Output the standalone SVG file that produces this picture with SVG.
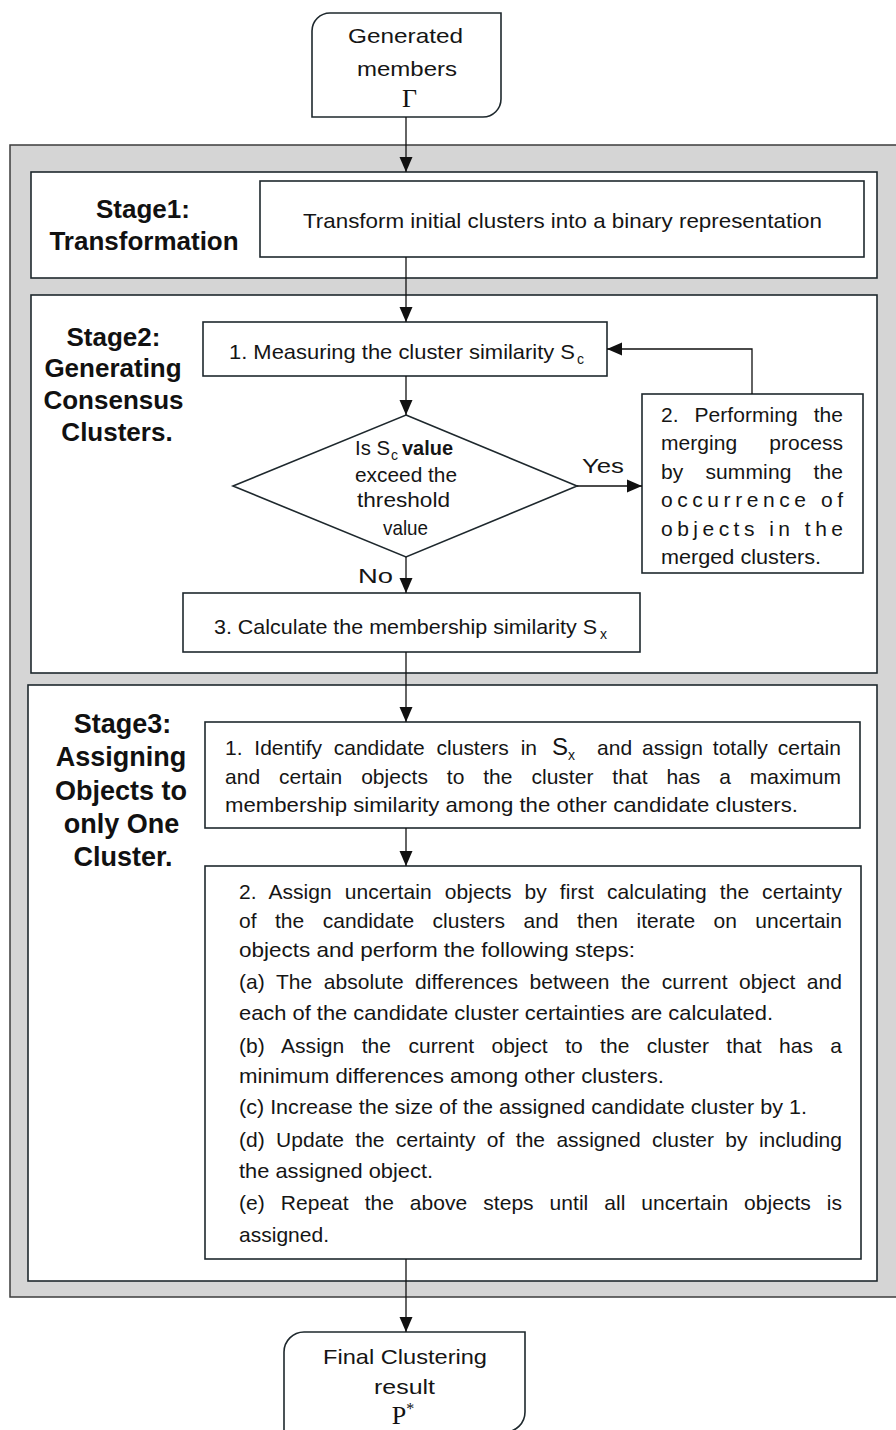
<svg xmlns="http://www.w3.org/2000/svg" width="896" height="1430" viewBox="0 0 896 1430">
<defs>
<style>
.box{fill:#fff;stroke:#1e282d;stroke-width:1.6}
.outer{fill:#d5d5d5;stroke:#3c3c3c;stroke-width:1.5}
.t{font-family:"Liberation Sans",Arial,sans-serif;font-size:21px;fill:#151515}
.sub{font-size:14px}
.lbl{font-family:"Liberation Sans",Arial,sans-serif;font-weight:bold;font-size:26px;fill:#111;text-anchor:middle}
.l3{font-size:27px}
.serif{font-family:"Liberation Serif","Times New Roman",serif;font-size:26px;fill:#111;text-anchor:middle}
.conn{stroke:#111;stroke-width:1.3;fill:none}
</style>
<marker id="ah" markerUnits="userSpaceOnUse" markerWidth="16" markerHeight="14" refX="15" refY="7" orient="auto">
<path d="M0,0.5 L15,7 L0,13.5 Z" fill="#111"/>
</marker>
</defs>

<g id="outer-container">
<rect class="outer" x="10" y="145" width="892" height="1152"/>
</g>

<g id="start">
<path class="box" d="M312,117 V31 A18,18 0 0 1 330,13 H501 V99 A18,18 0 0 1 483,117 Z"/>
<text class="t" x="348" y="43" font-size="23" textLength="115" lengthAdjust="spacingAndGlyphs">Generated</text>
<text class="t" x="357" y="76" font-size="23" textLength="100" lengthAdjust="spacingAndGlyphs">members</text>
<text class="serif" x="409.5" y="107">Γ</text>
</g>

<g id="stage1">
<rect class="box" x="31" y="172" width="846" height="106"/>
<text class="lbl" x="143" y="218">Stage1:</text>
<text class="lbl" x="144" y="250">Transformation</text>
</g>
<g id="transform">
<rect class="box" x="260" y="181" width="604" height="76"/>
<text class="t" x="303" y="228" textLength="519" lengthAdjust="spacingAndGlyphs">Transform initial clusters into a binary representation</text>
</g>

<g id="stage2">
<rect class="box" x="31" y="295" width="846" height="378"/>
<text class="lbl" x="113.5" y="346">Stage2:</text>
<text class="lbl" x="113" y="377">Generating</text>
<text class="lbl" x="113.5" y="409">Consensus</text>
<text class="lbl" x="117" y="441">Clusters.</text>
</g>
<g id="measure">
<rect class="box" x="203" y="322" width="404" height="54"/>
<text class="t" y="359"><tspan x="229" textLength="346" lengthAdjust="spacingAndGlyphs">1. Measuring the cluster similarity S</tspan><tspan class="sub" x="577" y="364">c</tspan></text>
</g>
<g id="decision">
<polygon class="box" points="406,415 577,486 406,557 233,486"/>
<text class="t" y="455"><tspan x="355" textLength="35" lengthAdjust="spacingAndGlyphs">Is S</tspan><tspan class="sub" x="391" y="460">c</tspan><tspan x="402" y="455" font-weight="bold" textLength="51" lengthAdjust="spacingAndGlyphs">value</tspan></text>
<text class="t" x="355" y="482" textLength="102" lengthAdjust="spacingAndGlyphs">exceed the</text>
<text class="t" x="357" y="507" textLength="93" lengthAdjust="spacingAndGlyphs">threshold</text>
<text class="t" x="383" y="535" textLength="45" lengthAdjust="spacingAndGlyphs">value</text>
</g>
<g id="merge">
<rect class="box" x="642" y="394" width="221" height="179"/>
<text class="t" x="661" y="422" word-spacing="10" textLength="182" lengthAdjust="spacing">2. Performing the</text>
<text class="t" x="661" y="450" word-spacing="26" textLength="182" lengthAdjust="spacing">merging process</text>
<text class="t" x="661" y="479" word-spacing="16" textLength="182" lengthAdjust="spacing">by summing the</text>
<text class="t" x="661" y="507" textLength="182" lengthAdjust="spacing">occurrence of</text>
<text class="t" x="661" y="536" textLength="182" lengthAdjust="spacing">objects in the</text>
<text class="t" x="661" y="564" textLength="160" lengthAdjust="spacingAndGlyphs">merged clusters.</text>
</g>
<g id="membership">
<rect class="box" x="183" y="593" width="457" height="59"/>
<text class="t" y="634"><tspan x="214" textLength="383" lengthAdjust="spacingAndGlyphs">3. Calculate the membership similarity S</tspan><tspan class="sub" x="600" y="639">x</tspan></text>
</g>

<g id="stage3">
<rect class="box" x="28" y="685" width="849" height="596"/>
<text class="lbl l3" x="122.5" y="733">Stage3:</text>
<text class="lbl l3" x="121" y="766">Assigning</text>
<text class="lbl l3" x="121" y="800">Objects to</text>
<text class="lbl l3" x="121.5" y="833">only One</text>
<text class="lbl l3" x="123" y="866">Cluster.</text>
</g>
<g id="identify">
<rect class="box" x="205" y="722" width="655" height="106"/>
<text class="t" x="225" y="755" word-spacing="6" textLength="312" lengthAdjust="spacing">1. Identify candidate clusters in</text>
<text class="t" y="755"><tspan x="552" font-size="24">S</tspan><tspan class="sub" x="568" y="760">x</tspan></text>
<text class="t" x="597" y="755" word-spacing="4" textLength="244" lengthAdjust="spacing">and assign totally certain</text>
<text class="t" x="225" y="784" word-spacing="13" textLength="616" lengthAdjust="spacing">and certain objects to the cluster that has a maximum</text>
<text class="t" x="225" y="812" textLength="573" lengthAdjust="spacingAndGlyphs">membership similarity among the other candidate clusters.</text>
</g>
<g id="assign">
<rect class="box" x="205" y="866" width="656" height="393"/>
<text class="t" x="239" y="899" word-spacing="7" textLength="603" lengthAdjust="spacing">2.  Assign uncertain objects by first calculating the certainty</text>
<text class="t" x="239" y="928" word-spacing="12.5" textLength="603" lengthAdjust="spacing">of the candidate clusters and then iterate on uncertain</text>
<text class="t" x="239" y="957" textLength="396" lengthAdjust="spacingAndGlyphs">objects and perform the following steps:</text>
<text class="t" x="239" y="989" word-spacing="5.5" textLength="603" lengthAdjust="spacing">(a) The absolute differences between the current object  and</text>
<text class="t" x="239" y="1020" textLength="534" lengthAdjust="spacingAndGlyphs">each of the candidate cluster certainties are calculated.</text>
<text class="t" x="239" y="1053" word-spacing="11.5" textLength="603" lengthAdjust="spacing">(b) Assign the current object to the cluster that has a</text>
<text class="t" x="239" y="1083" textLength="425" lengthAdjust="spacingAndGlyphs">minimum differences among other clusters.</text>
<text class="t" x="239" y="1114" textLength="568" lengthAdjust="spacingAndGlyphs">(c) Increase the size of the assigned candidate cluster by 1.</text>
<text class="t" x="239" y="1147" word-spacing="5.5" textLength="603" lengthAdjust="spacing">(d) Update the certainty of the assigned cluster by including</text>
<text class="t" x="239" y="1178" textLength="194" lengthAdjust="spacingAndGlyphs">the assigned object.</text>
<text class="t" x="239" y="1210" word-spacing="10" textLength="603" lengthAdjust="spacing">(e) Repeat the above steps until all uncertain objects is</text>
<text class="t" x="239" y="1242" textLength="90" lengthAdjust="spacingAndGlyphs">assigned.</text>
</g>

<g id="end">
<path class="box" d="M284,1432 V1352 A20,20 0 0 1 304,1332 H525 V1412 A20,20 0 0 1 505,1432 Z"/>
<text class="t" x="323" y="1364" font-size="23" textLength="164" lengthAdjust="spacingAndGlyphs">Final Clustering</text>
<text class="t" x="374" y="1394" font-size="23" textLength="61" lengthAdjust="spacingAndGlyphs">result</text>
<text class="serif" y="1424"><tspan x="403">P</tspan><tspan font-size="16" dy="-10">*</tspan></text>
</g>

<g id="connectors">
<line class="conn" x1="406" y1="117" x2="406" y2="172" marker-end="url(#ah)"/>
<line class="conn" x1="406" y1="257" x2="406" y2="322" marker-end="url(#ah)"/>
<line class="conn" x1="406" y1="376" x2="406" y2="415" marker-end="url(#ah)"/>
<line class="conn" x1="577" y1="486" x2="642" y2="486" marker-end="url(#ah)"/>
<polyline class="conn" points="752,394 752,349 607,349" marker-end="url(#ah)"/>
<line class="conn" x1="406" y1="557" x2="406" y2="593" marker-end="url(#ah)"/>
<line class="conn" x1="406" y1="652" x2="406" y2="722" marker-end="url(#ah)"/>
<line class="conn" x1="406" y1="828" x2="406" y2="866" marker-end="url(#ah)"/>
<line class="conn" x1="406" y1="1259" x2="406" y2="1332" marker-end="url(#ah)"/>
<text class="t" x="582" y="473" font-size="24" textLength="42" lengthAdjust="spacingAndGlyphs">Yes</text>
<text class="t" x="358" y="583" font-size="25" textLength="35" lengthAdjust="spacingAndGlyphs">No</text>
</g>
</svg>
